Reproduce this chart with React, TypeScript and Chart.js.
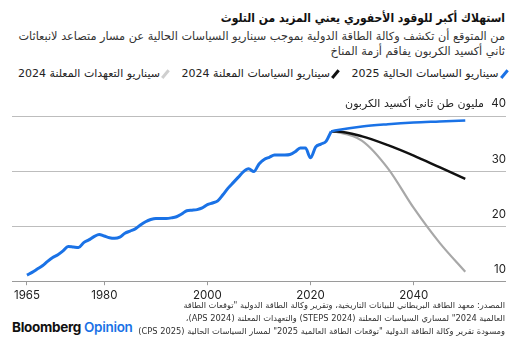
import React, { useEffect, useRef } from "react";
import { Chart, registerables } from "chart.js";

Chart.register(...registerables);

const histYears: number[] = [
  1965, 1966, 1967, 1968, 1969, 1970, 1971, 1972, 1973, 1974, 1975, 1976, 1977, 1978, 1979,
  1980, 1981, 1982, 1983, 1984, 1985, 1986, 1987, 1988, 1989, 1990, 1991, 1992, 1993, 1994,
  1995, 1996, 1997, 1998, 1999, 2000, 2001, 2002, 2003, 2004, 2005, 2006, 2007, 2008, 2009,
  2010, 2011, 2012, 2013, 2014, 2015, 2016, 2017, 2018, 2019, 2020, 2021, 2022, 2023, 2024,
];
const histValues: number[] = [
  11.1, 11.6, 12.2, 12.8, 13.6, 14.3, 14.8, 15.5, 16.3, 16.2, 16.1, 17.0, 17.5, 18.1, 18.5,
  18.2, 17.9, 17.8, 18.0, 18.7, 19.1, 19.5, 20.2, 20.8, 21.2, 21.4, 21.4, 21.4, 21.5, 21.7,
  22.2, 22.8, 22.9, 23.0, 23.3, 23.9, 24.2, 24.6, 25.7, 26.9, 27.9, 28.9, 29.9, 30.4, 29.9,
  31.3, 32.1, 32.5, 32.9, 32.9, 32.9, 33.0, 33.5, 34.2, 34.2, 32.4, 34.4, 34.9, 35.4, 37.2,
];
const scenYears: number[] = [2024, 2025, 2030, 2035, 2040, 2045, 2050];
const cpsValues: number[] = [37.2, 37.4, 38.1, 38.5, 38.8, 39.0, 39.2];
const stepsValues: number[] = [37.2, 37.2, 36.3, 34.7, 32.8, 30.7, 28.6];
const apsValues: number[] = [37.2, 37.1, 35.5, 30.5, 23.3, 17.0, 11.7];

const xTicks: number[] = [1965, 1980, 2000, 2020, 2040];
const yTicks: number[] = [10, 20, 30, 40];

const title = "استهلاك أكبر للوقود الأحفوري يعني المزيد من التلوث";
const subtitle1 = "من المتوقع أن تكشف وكالة الطاقة الدولية بموجب سيناريو السياسات الحالية عن مسار متصاعد لانبعاثات";
const subtitle2 = "ثاني أكسيد الكربون يفاقم أزمة المناخ";
const legendLabels: string[] = [
  "سيناريو السياسات الحالية 2025",
  "سيناريو السياسات المعلنة 2024",
  "سيناريو التعهدات المعلنة 2024",
];
const unitLabel = "مليون طن ثاني أكسيد الكربون";
const source1 = "المصدر: معهد الطاقة البريطاني للبيانات التاريخية، وتقرير وكالة الطاقة الدولية \"توقعات الطاقة";
const source2 = "العالمية 2024\" لمساري السياسات المعلنة (STEPS 2024) والتعهدات المعلنة (APS 2024)،";
const source3 = "ومسودة تقرير وكالة الطاقة الدولية \"توقعات الطاقة العالمية 2025\" لمسار السياسات الحالية (CPS 2025)";

const BLUE = "#1a72e6";
const BLACK = "#111111";
const GRAY = "#a8a8a8";
const AR_FONT = "'DejaVu Sans', sans-serif";
const AR_COND = "'DejaVu Sans Condensed', 'DejaVu Sans', sans-serif";
const NUM_FONT = "Inter, 'Noto Sans', sans-serif";

const pts = (xs: number[], ys: number[]) => xs.map((x, i) => ({ x, y: ys[i] }));

export default function App() {
  const ref = useRef<HTMLCanvasElement | null>(null);

  useEffect(() => {
    document.body.style.margin = "0";
    if (!ref.current) return;
    const unitPlugin = {
      id: "unitLabel",
      afterDraw(chart: any) {
        const ctx = chart.ctx;
        const y = chart.scales.y.getPixelForValue(40) - 12;
        ctx.save();
        ctx.font = `11px ${AR_FONT}`;
        ctx.fillStyle = "#222";
        ctx.textAlign = "right";
        ctx.textBaseline = "middle";
        ctx.direction = "rtl";
        ctx.fillText(unitLabel, chart.chartArea.right - 22, y);
        ctx.restore();
      },
    };
    const chart = new Chart(ref.current, {
      type: "line",
      data: {
        datasets: [
          {
            label: "hist",
            data: pts(histYears, histValues),
            borderColor: BLUE,
            borderWidth: 3,
            pointRadius: 0,
            cubicInterpolationMode: "monotone",
          },
          {
            label: legendLabels[0],
            data: pts(scenYears, cpsValues),
            borderColor: BLUE,
            borderWidth: 2.5,
            pointRadius: 0,
            cubicInterpolationMode: "monotone",
          },
          {
            label: legendLabels[1],
            data: pts(scenYears, stepsValues),
            borderColor: BLACK,
            borderWidth: 2.5,
            pointRadius: 0,
            cubicInterpolationMode: "monotone",
          },
          {
            label: legendLabels[2],
            data: pts(scenYears, apsValues),
            borderColor: GRAY,
            borderWidth: 2.2,
            pointRadius: 0,
            cubicInterpolationMode: "monotone",
          },
        ],
      },
      options: {
        animation: false,
        responsive: false,
        maintainAspectRatio: false,
        layout: { padding: { left: 12, right: 14, top: 26, bottom: 0 } },
        plugins: { legend: { display: false }, tooltip: { enabled: false } },
        scales: {
          x: {
            type: "linear",
            min: 1962.1,
            max: 2057.9,
            afterBuildTicks: (s: any) => {
              s.ticks = xTicks.map((v) => ({ value: v }));
            },
            grid: {
              display: true,
              drawOnChartArea: false,
              drawTicks: true,
              tickLength: 4,
              color: "#9a9a9a",
            },
            border: { display: false },
            ticks: {
              autoSkip: false,
              maxRotation: 0,
              padding: 3,
              color: "#222",
              font: { family: NUM_FONT, size: 11.5 },
              callback: (v: any) => String(v),
            },
          },
          y: {
            type: "linear",
            position: "right",
            min: 10,
            max: 40,
            afterBuildTicks: (s: any) => {
              s.ticks = yTicks.map((v) => ({ value: v }));
            },
            grid: {
              drawTicks: false,
              color: (c: any) => (c.tick && c.tick.value === 10 ? "#9a9a9a" : "#bdbdbd"),
              lineWidth: 1,
            },
            border: { display: false },
            ticks: {
              mirror: true,
              padding: 0,
              labelOffset: -12,
              color: "#222",
              font: { family: NUM_FONT, size: 11.5 },
              callback: (v: any) => String(v),
            },
          },
        },
      },
      plugins: [unitPlugin],
    } as any);
    return () => chart.destroy();
  }, []);

  const slash = (color: string, first: boolean) => (
    <span
      style={{
        display: "inline-block",
        width: 2.5,
        height: 10,
        background: color,
        transform: "rotate(40deg)",
        marginLeft: 4,
        marginRight: first ? 0 : 15,
        verticalAlign: "middle",
      }}
    />
  );

  return (
    <div
      style={{
        position: "fixed",
        left: 0,
        top: 0,
        width: 520,
        height: 347,
        background: "#fff",
        overflow: "hidden",
        color: "#222",
      }}
    >
      <div
        dir="rtl"
        style={{
          position: "absolute",
          right: 15,
          top: 8,
          fontFamily: AR_COND,
          fontWeight: "bold",
          fontSize: 12,
          lineHeight: "20px",
          color: "#111",
          whiteSpace: "nowrap",
        }}
      >
        {title}
      </div>
      <div
        dir="rtl"
        style={{
          position: "absolute",
          right: 15,
          top: 29,
          fontFamily: AR_FONT,
          fontSize: 11.3,
          lineHeight: "15px",
          color: "#333",
          whiteSpace: "nowrap",
          textAlign: "right",
        }}
      >
        <div>{subtitle1}</div>
        <div>{subtitle2}</div>
      </div>
      <div
        dir="rtl"
        style={{
          position: "absolute",
          right: 15,
          top: 66,
          fontFamily: AR_FONT,
          fontSize: 11,
          lineHeight: "16px",
          color: "#222",
          whiteSpace: "nowrap",
        }}
      >
        {slash(BLUE, true)}
        <span>{legendLabels[0]}</span>
        {slash(BLACK, false)}
        <span>{legendLabels[1]}</span>
        {slash("#cfcfcf", false)}
        <span>{legendLabels[2]}</span>
      </div>
      <canvas
        ref={ref}
        width={520}
        height={215}
        style={{ position: "absolute", left: 0, top: 90, width: 520, height: 215 }}
      />
      <div
        style={{
          position: "absolute",
          left: 12,
          top: 318,
          fontFamily: "Inter, 'Noto Sans', sans-serif",
          fontWeight: 700,
          fontSize: 13.5,
          letterSpacing: -0.3,
          lineHeight: "18px",
          whiteSpace: "nowrap",
        }}
      >
        <span style={{ color: "#111" }}>Bloomberg</span>
        <span style={{ color: BLUE, fontWeight: 600, marginLeft: 3 }}>Opinion</span>
      </div>
      <div
        dir="rtl"
        style={{
          position: "absolute",
          right: 15,
          top: 299,
          fontFamily: AR_FONT,
          fontSize: 8.3,
          lineHeight: "13px",
          color: "#333",
          whiteSpace: "nowrap",
          textAlign: "right",
        }}
      >
        <div>{source1}</div>
        <div>{source2}</div>
        <div>{source3}</div>
      </div>
    </div>
  );
}
